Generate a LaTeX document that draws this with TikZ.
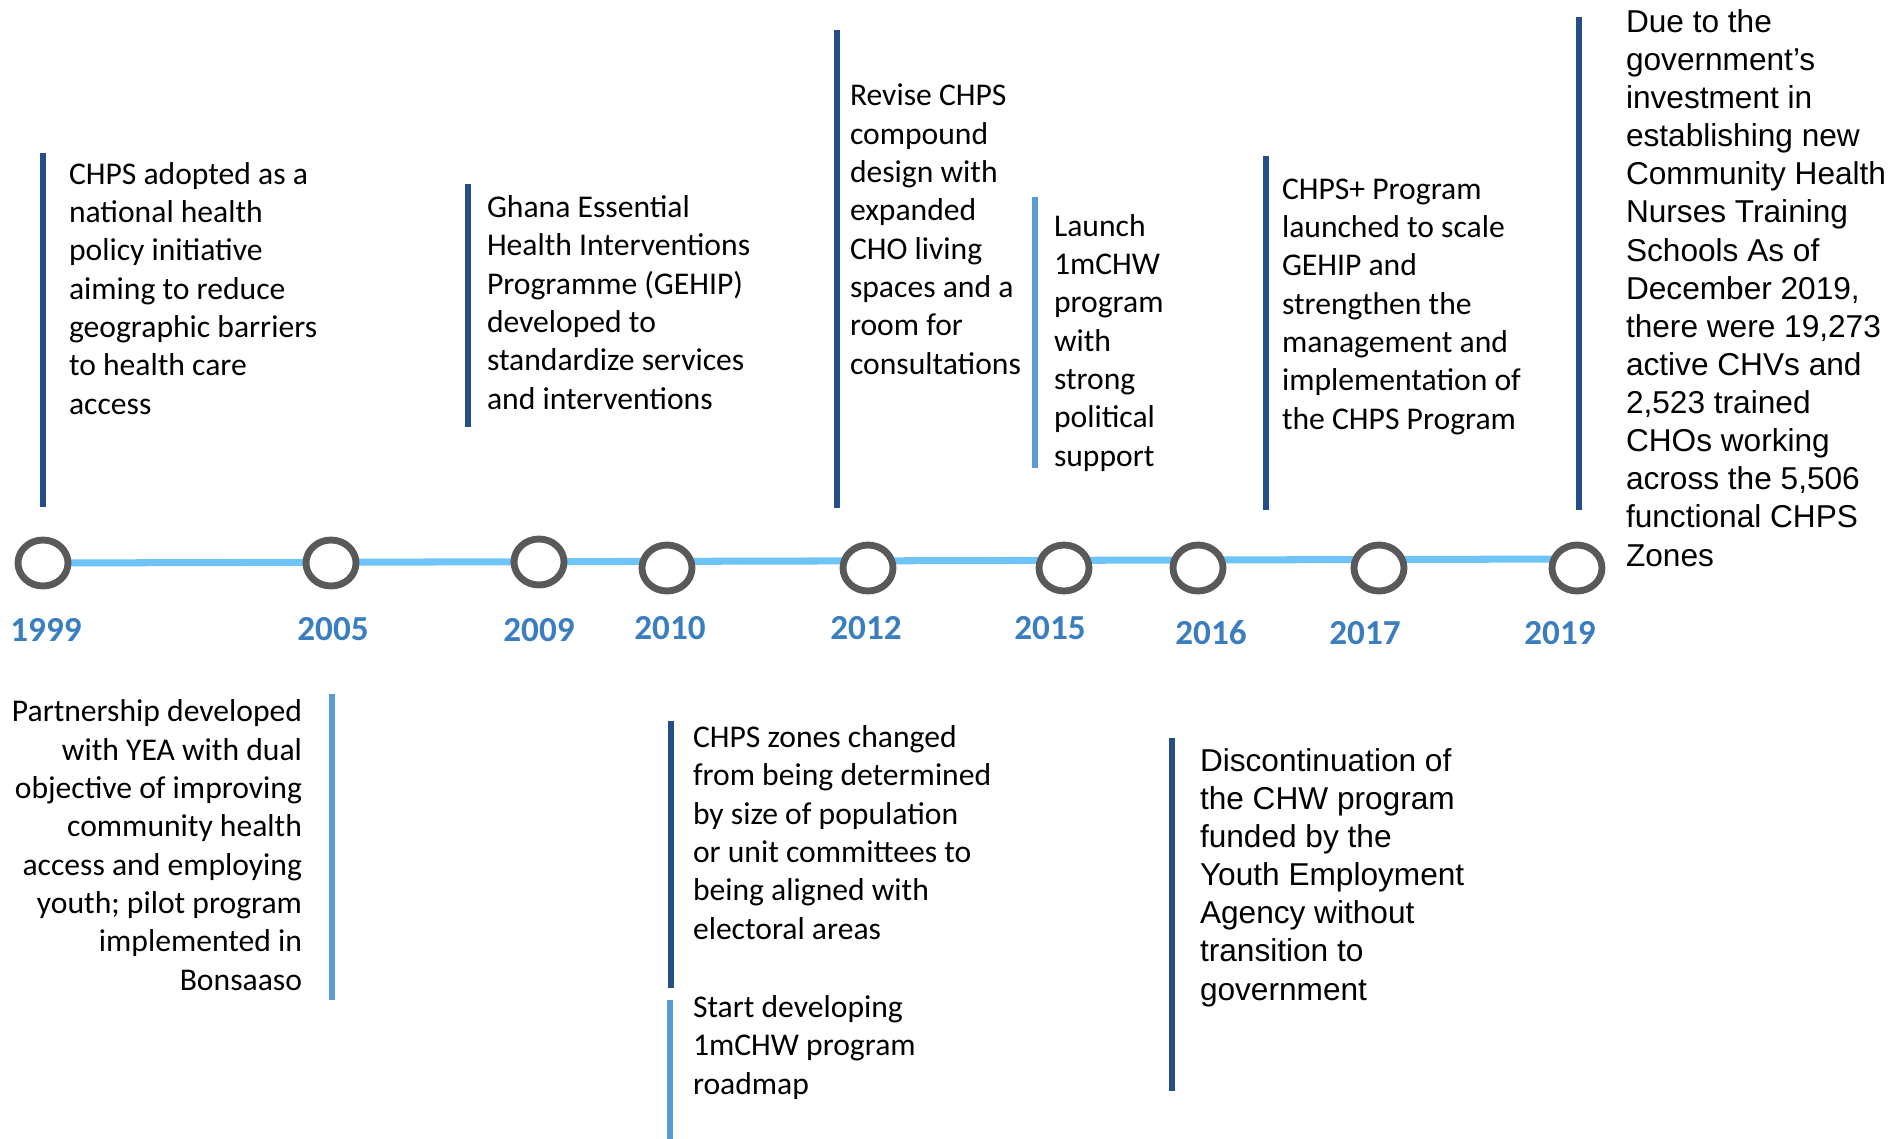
\documentclass[tikz,border=0pt]{standalone}
\usepackage{fontspec}
\setmainfont{Carlito}
\newfontfamily\arialfont{Liberation Sans}
\usetikzlibrary{calc,shapes.geometric}

\definecolor{navybar}{HTML}{234E88}
\definecolor{skybar}{HTML}{5B9BD5}
\definecolor{tlblue}{HTML}{6EC4F6}
\definecolor{yearblue}{HTML}{3A7EC0}
\definecolor{ringgrey}{HTML}{595959}

\begin{document}

\begin{tikzpicture}[x=0.02cm,y=-0.02cm,
  every node/.style={inner sep=0,outer sep=0},
  event/.style={anchor=base west,align=left,font=\fontsize{18}{21.8}\selectfont},
  eventarial/.style={anchor=base west,align=left,font=\arialfont\fontsize{18}{21.7}\selectfont},
  year/.style={anchor=center,text=yearblue,font=\bfseries\fontsize{20}{24}\selectfont},
  ring/.style={draw=ringgrey,line width=3.9pt,fill=white,ellipse,minimum width=50*0.02cm,minimum height=46*0.02cm},
  darkbar/.style={draw=navybar,line width=3.7pt},
  lightbar/.style={draw=skybar,line width=3.7pt}]

\useasboundingbox (0,0) rectangle (1893,1139);

% timeline
\coordinate (tlstart) at (43,563);
\coordinate (tlend) at (1577,559);

\draw [tlblue,line width=4pt] (tlstart) -- (tlend);

\node [ring] (r1999) at (43,563) {};
\node [ring] (r2005) at (331,563) {};
\node [ring] (r2009) at (539,562) {};
\node [ring] (r2010) at (667,568) {};
\node [ring] (r2012) at (868,568) {};
\node [ring] (r2015) at (1064,568) {};
\node [ring] (r2016) at (1198,568) {};
\node [ring] (r2017) at (1379,568) {};
\node [ring] (r2019) at (1577,568) {};

\node [year] (y1999) at (46,630) {1999};
\node [year] (y2005) at (333,629) {2005};
\node [year] (y2009) at (539,630) {2009};
\node [year] (y2010) at (670,628) {2010};
\node [year] (y2012) at (866,628) {2012};
\node [year] (y2015) at (1050,628) {2015};
\node [year] (y2016) at (1211,633) {2016};
\node [year] (y2017) at (1365,633) {2017};
\node [year] (y2019) at (1560,633) {2019};

% events above the line (placed by their last line)
\draw [darkbar] (43,153) -- (43,507);
\node [event] (e1999) at (69,414) {CHPS adopted as a\\national health\\policy initiative\\aiming to reduce\\geographic barriers\\to health care\\access};

\draw [darkbar] (468,184) -- (468,427);
\node [event] (e2009) at (487,409) {Ghana Essential\\Health Interventions\\Programme (GEHIP)\\developed to\\standardize services\\and interventions};

\draw [darkbar] (837,30) -- (837,508);
\node [event] (e2012) at (850,374) {Revise CHPS\\compound\\design with\\expanded\\CHO living\\spaces and a\\room for\\consultations};

\draw [lightbar] (1035,197) -- (1035,468);
\node [event] (e2015) at (1054,466) {Launch\\1mCHW\\program\\with\\strong\\political\\support};

\draw [darkbar] (1266,156) -- (1266,510);
\node [event] (e2017) at (1282,429) {CHPS+ Program\\launched to scale\\GEHIP and\\strengthen the\\management and\\implementation of\\the CHPS Program};

\draw [darkbar] (1579,17) -- (1579,510);
\node [eventarial] (e2019) at (1626,566) {Due to the\\government’s\\investment in\\establishing new\\Community Health\\Nurses Training\\Schools As of\\December 2019,\\there were 19,273\\active CHVs and\\2,523 trained\\CHOs working\\across the 5,506\\functional CHPS\\Zones};

% events below the line
\draw [lightbar] (332,694) -- (332,1000);
\node [event,anchor=base east,align=right] (e2005) at (302,990) {Partnership developed\\with YEA with dual\\objective of improving\\community health\\access and employing\\youth; pilot program\\implemented in\\Bonsaaso};

\draw [darkbar] (671,721) -- (671,988);
\node [event] (e2010a) at (693,939) {CHPS zones changed\\from being determined\\by size of population\\or unit committees to\\being aligned with\\electoral areas};

\draw [lightbar] (670,1000) -- (670,1139);
\node [event] (e2010b) at (693,1094) {Start developing\\1mCHW program\\roadmap};

\draw [darkbar] (1172,738) -- (1172,1091);
\node [eventarial] (e2016) at (1200,1000) {Discontinuation of\\the CHW program\\funded by the\\Youth Employment\\Agency without\\transition to\\government};

\end{tikzpicture}

\end{document}
